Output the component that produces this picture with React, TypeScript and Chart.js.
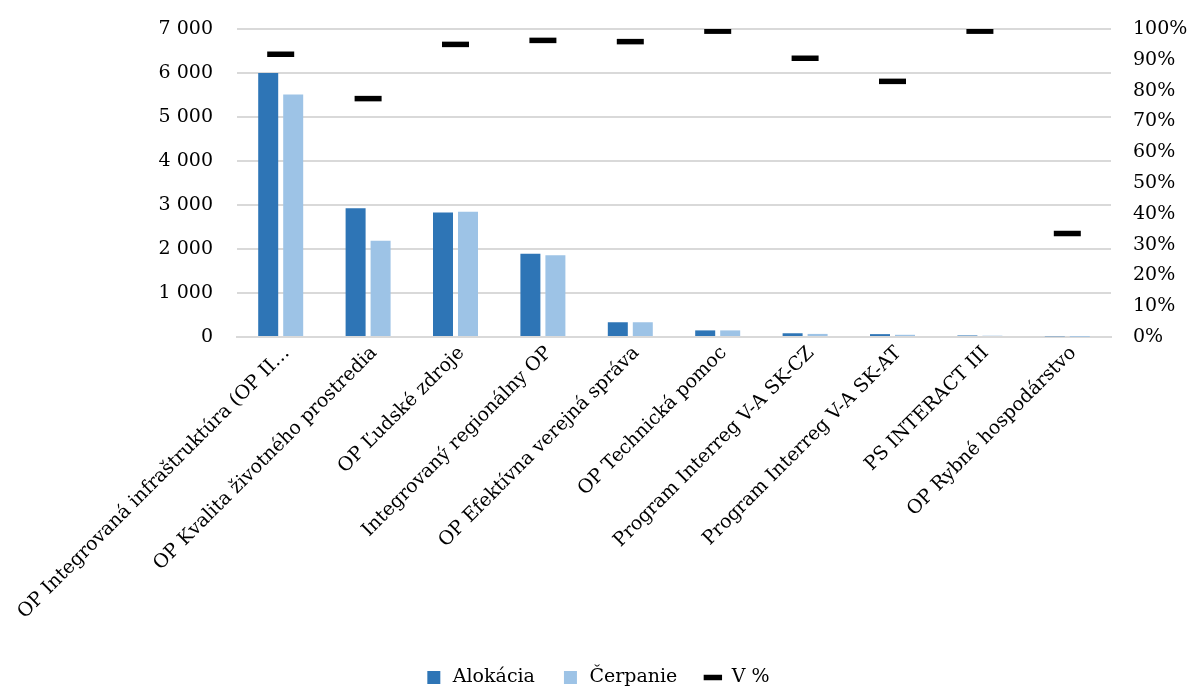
import React, { useEffect, useRef } from "react";
import { Chart, registerables } from "chart.js";

Chart.register(...registerables);

const categories = [
  "OP Integrovaná infraštruktúra (OP II…",
  "OP Kvalita životného prostredia",
  "OP Ľudské zdroje",
  "Integrovaný regionálny OP",
  "OP Efektívna verejná správa",
  "OP Technická pomoc",
  "Program Interreg V-A SK-CZ",
  "Program Interreg V-A SK-AT",
  "PS INTERACT III",
  "OP Rybné hospodárstvo",
];

const alokacia = [6000, 2925, 2830, 1890, 335, 150, 85, 65, 35, 15];
const cerpanie = [5510, 2190, 2845, 1860, 335, 150, 70, 50, 30, 5];
const vPercent = [91.8, 77.4, 95.0, 96.3, 95.9, 99.3, 90.5, 83.0, 99.3, 33.6];

const leftTicks = [0, 1000, 2000, 3000, 4000, 5000, 6000, 7000];
const rightTicks = [0, 10, 20, 30, 40, 50, 60, 70, 80, 90, 100];

const FONT = { family: "'DejaVu Serif', serif", size: 19 };
const TEXT = "#000000";
const GRID = "#d9d9d9";

export default function App() {
  const ref = useRef<HTMLCanvasElement | null>(null);

  useEffect(() => {
    if (!ref.current) return;
    const chart = new Chart(ref.current, {
      type: "bar",
      data: {
        labels: categories,
        datasets: [
          {
            type: "bar",
            label: "Alokácia",
            data: alokacia,
            backgroundColor: "#2E75B6",
            borderWidth: 0,
            pointStyle: "rect",
            yAxisID: "y",
            categoryPercentage: 0.572,
            barPercentage: 0.8,
            order: 2,
          } as any,
          {
            type: "bar",
            label: "Čerpanie",
            data: cerpanie,
            backgroundColor: "#9DC3E6",
            borderWidth: 0,
            pointStyle: "rect",
            yAxisID: "y",
            categoryPercentage: 0.572,
            barPercentage: 0.8,
            order: 2,
          } as any,
          {
            type: "line",
            label: "V %",
            data: vPercent,
            yAxisID: "y2",
            showLine: false,
            borderColor: "#000000",
            backgroundColor: "#000000",
            borderWidth: 3,
            pointStyle: "line",
            pointRadius: 13.5,
            pointHoverRadius: 13.5,
            pointBorderWidth: 5.5,
            pointBorderColor: "#000000",
            order: 1,
          } as any,
        ],
      },
      options: {
        animation: false,
        responsive: true,
        maintainAspectRatio: false,
        layout: { padding: { top: 29, left: 0, right: 0, bottom: -9 } },
        plugins: {
          tooltip: { enabled: false },
          legend: {
            position: "bottom",
            labels: {
              usePointStyle: true,
              boxHeight: 13,
              padding: 26,
              font: FONT,
              color: TEXT,
              sort: (a: any, b: any) => a.datasetIndex - b.datasetIndex,
            },
          },
        },
        scales: {
          x: {
            grid: { display: false, drawTicks: false },
            border: { display: true, color: GRID, width: 2 },
            ticks: {
              autoSkip: false,
              minRotation: 45,
              maxRotation: 45,
              font: FONT,
              color: TEXT,
              padding: 5,
              labelOffset: 6,
            },
            afterFit: (s: any) => {
              s.height = 305;
              s.paddingLeft = 0;
              s.paddingRight = 0;
            },
          },
          y: {
            position: "left",
            min: 0,
            max: 7000,
            afterBuildTicks: (s: any) => {
              s.ticks = leftTicks.map((v) => ({ value: v }));
            },
            ticks: {
              font: FONT,
              color: TEXT,
              padding: 24,
              callback: (v: any) =>
                Number(v)
                  .toString()
                  .replace(/\B(?=(\d{3})+(?!\d))/g, " "),
            },
            grid: { color: GRID, lineWidth: 2, drawTicks: false },
            border: { display: false },
            afterFit: (s: any) => {
              s.width = 237;
              s.paddingTop = 0;
              s.paddingBottom = 0;
            },
          },
          y2: {
            position: "right",
            min: 0,
            max: 100,
            afterBuildTicks: (s: any) => {
              s.ticks = rightTicks.map((v) => ({ value: v }));
            },
            ticks: {
              font: FONT,
              color: TEXT,
              padding: 22,
              callback: (v: any) => `${v}%`,
            },
            grid: { display: false, drawTicks: false },
            border: { display: false },
            afterFit: (s: any) => {
              s.width = 83;
              s.paddingTop = 0;
              s.paddingBottom = 0;
            },
          },
        },
      },
    });
    return () => chart.destroy();
  }, []);

  return (
    <div style={{ position: "absolute", left: 0, top: 0, width: 1194, height: 688, background: "#fff" }}>
      <canvas ref={ref} />
    </div>
  );
}
